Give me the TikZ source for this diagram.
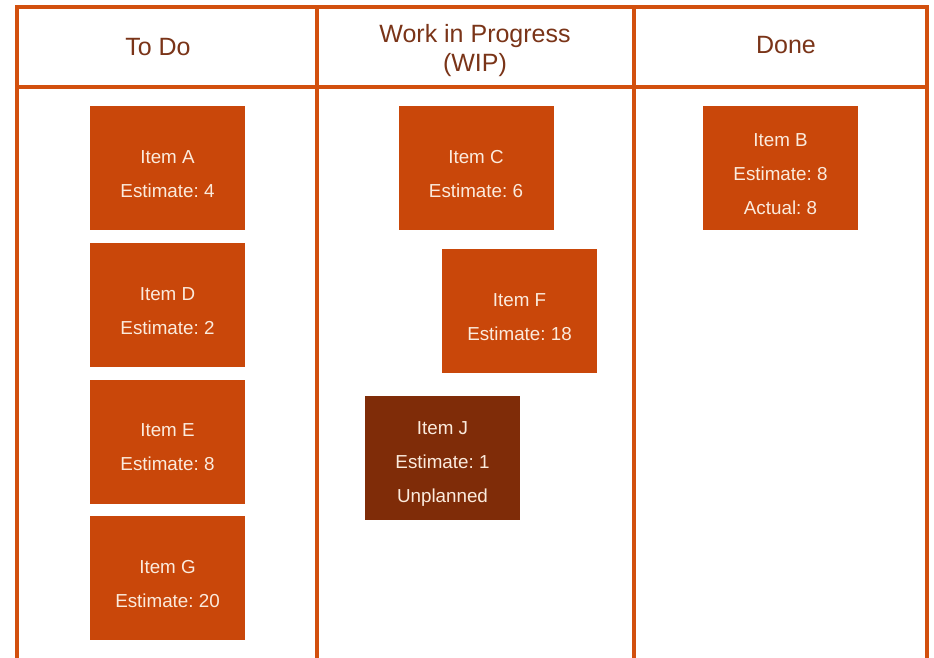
\documentclass[tikz,border=0pt]{standalone}
\usepackage{fontspec}
\setmainfont{Liberation Sans}
\frenchspacing
\definecolor{frame}{HTML}{D2500E}
\definecolor{card}{HTML}{C9470A}
\definecolor{cardd}{HTML}{7F2C08}
\definecolor{head}{HTML}{7A3418}
\definecolor{ctext}{HTML}{FBEBDD}
\begin{document}
\begin{tikzpicture}[x=1pt,y=-1pt,
  framel/.style={draw=frame,line width=3.2pt},
  headtxt/.style={text=head,font=\fontsize{25}{29}\selectfont,align=center},
  cardbox/.style={fill=card,minimum width=155pt,minimum height=124pt,inner sep=0pt},
  darkcard/.style={cardbox,fill=cardd},
  cardtxt/.style={text=ctext,font=\fontsize{18.8}{34}\selectfont,align=center,inner sep=0pt,yshift=-6pt}]
\useasboundingbox (0,0) rectangle (934,658);
\fill[white] (0,0) rectangle (934,658);
% frame
\coordinate (tl) at (17,7);
\coordinate (tr) at (927,7);
\coordinate (bl) at (17,662);
\coordinate (br) at (927,662);
\coordinate (hl) at (17,87);
\coordinate (hr) at (927,87);
\coordinate (c1t) at (317,7);
\coordinate (c1b) at (317,662);
\coordinate (c2t) at (634,7);
\coordinate (c2b) at (634,662);
\draw[framel] (bl) -- (tl) -- (tr) -- (br);
\draw[framel] (hl) -- (hr);
\draw[framel] (c1t) -- (c1b);
\draw[framel] (c2t) -- (c2b);
% headers
\node[headtxt] (h1) at (158,47) {To Do};
\node[headtxt] (h2) at (475,51) {Work in Progress\\(WIP)};
\node[headtxt] (h3) at (786,45) {Done};
% cards
\node[cardbox] (A) at (167.5,168) {};
\node[cardtxt] (At) at (A.center) {Item A\\Estimate: 4};
\node[cardbox] (D) at (167.5,305) {};
\node[cardtxt] (Dt) at (D.center) {Item D\\Estimate: 2};
\node[cardbox] (E) at (167.5,441.5) {};
\node[cardtxt] (Et) at (E.center) {Item E\\Estimate: 8};
\node[cardbox] (G) at (167.5,578) {};
\node[cardtxt] (Gt) at (G.center) {Item G\\Estimate: 20};
\node[cardbox] (C) at (476,168) {};
\node[cardtxt] (Ct) at (C.center) {Item C\\Estimate: 6};
\node[cardbox] (F) at (519.5,311) {};
\node[cardtxt] (Ft) at (F.center) {Item F\\Estimate: 18};
\node[darkcard] (J) at (442.5,458) {};
\node[cardtxt] (Jt) at (J.center) {Item J\\Estimate: 1\\Unplanned};
\node[cardbox] (B) at (780.5,168) {};
\node[cardtxt] (Bt) at (B.center) {Item B\\Estimate: 8\\Actual: 8};
\end{tikzpicture}
\end{document}
